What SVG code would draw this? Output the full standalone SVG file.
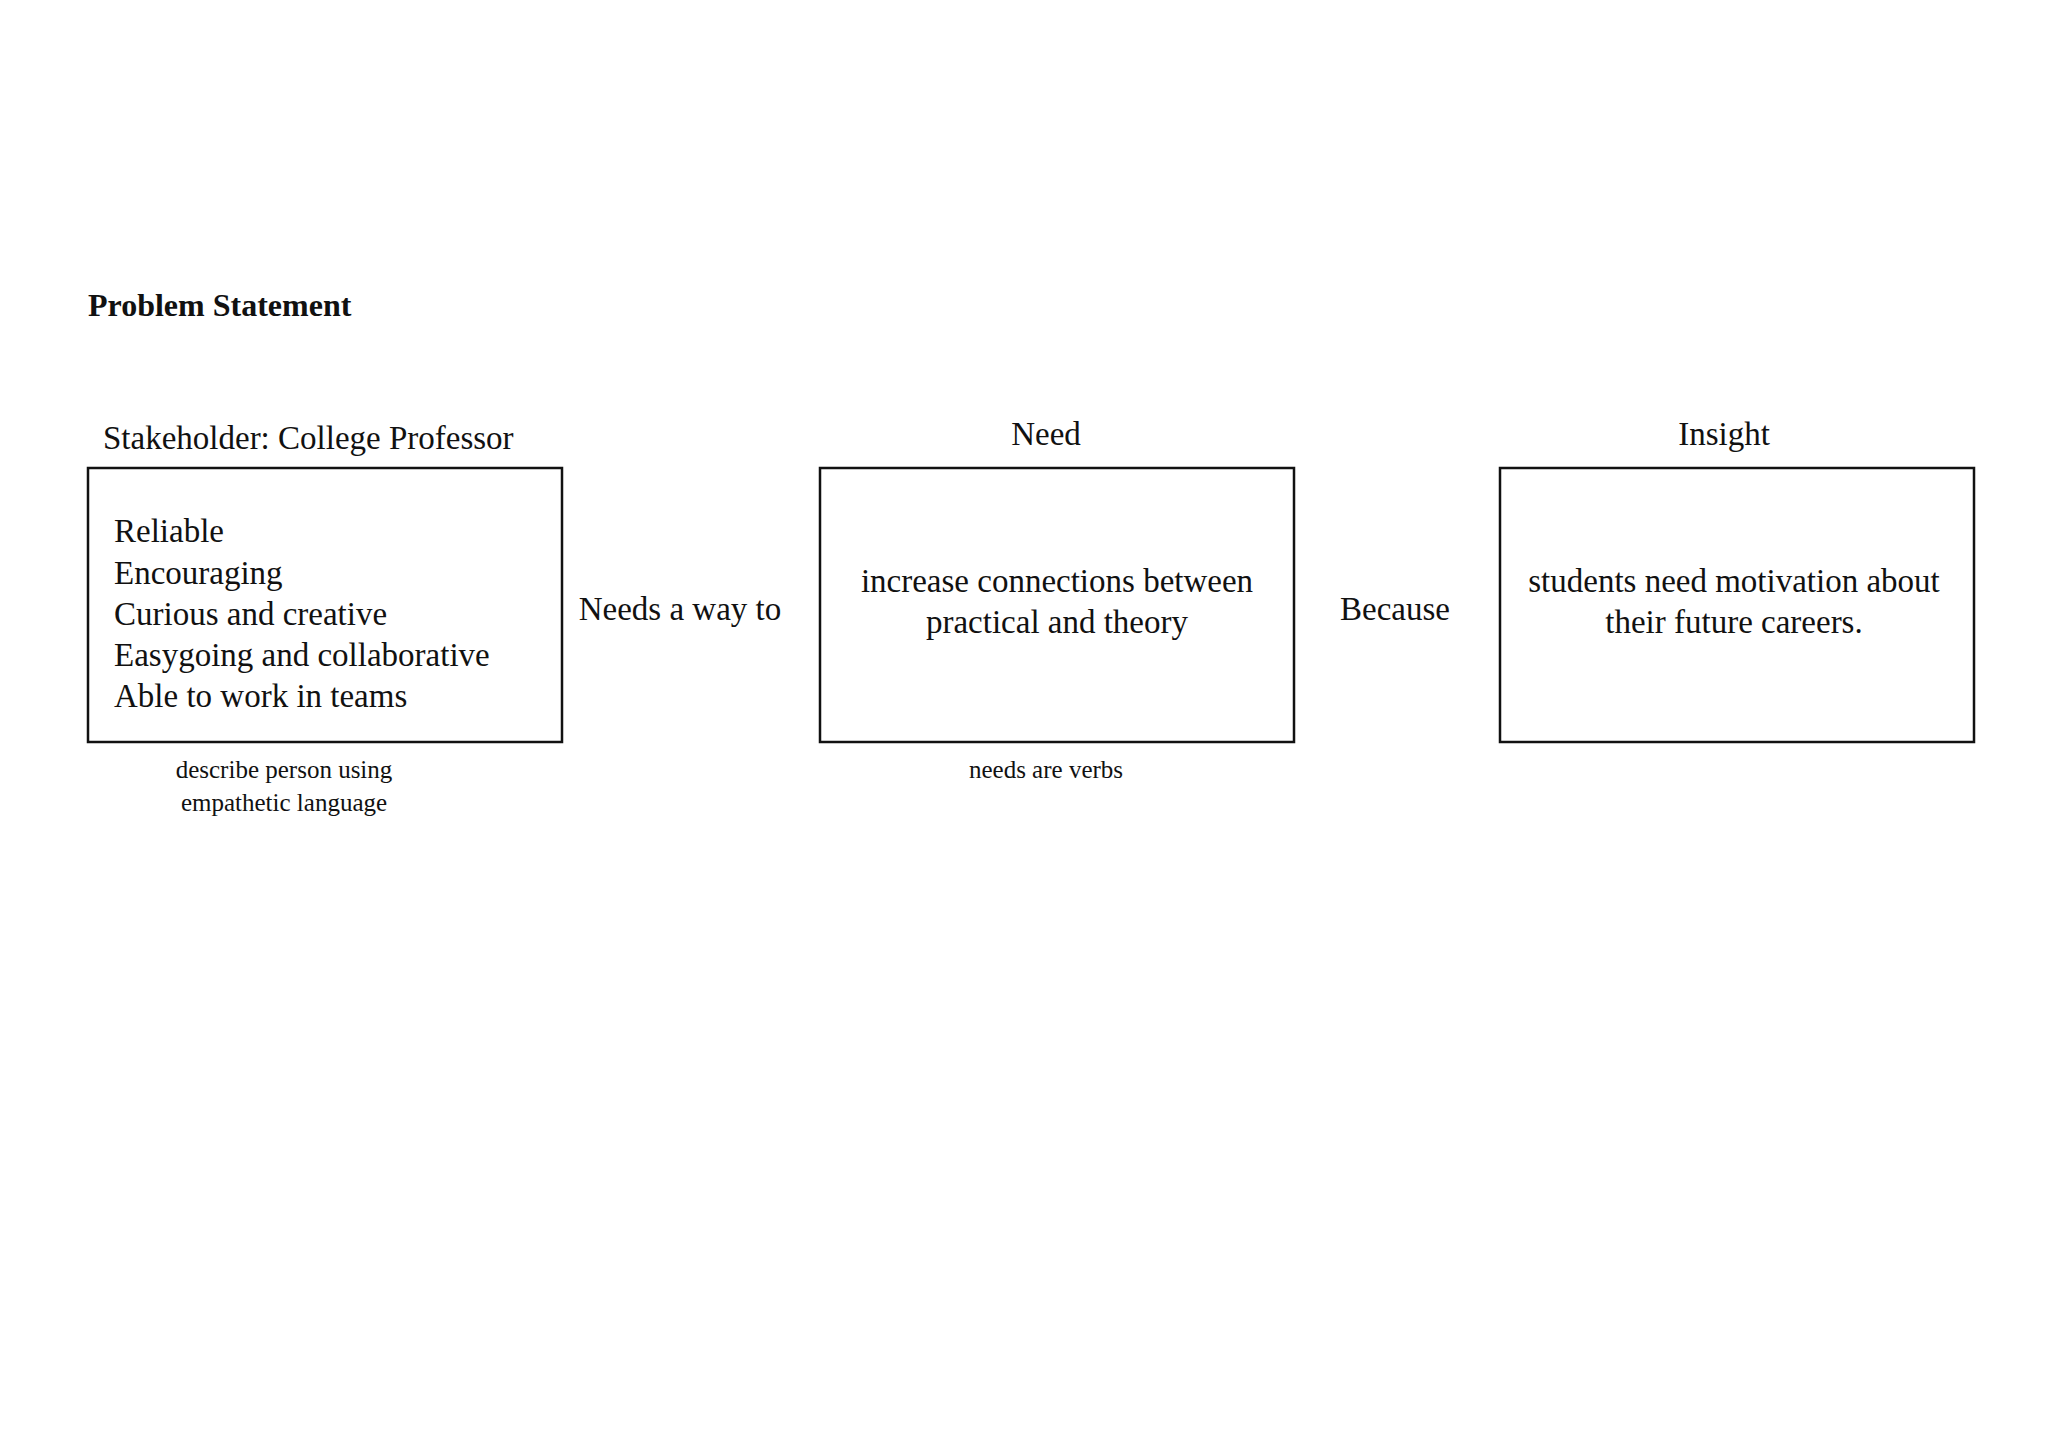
<svg xmlns="http://www.w3.org/2000/svg" width="2048" height="1448" viewBox="0 0 2048 1448">
<style>
text{font-family:"Liberation Serif",serif;fill:#111}
.box{fill:#fff;stroke:#111;stroke-width:2.5}
.l{font-size:33px}
.s{font-size:25px}
.c{text-anchor:middle}
</style>
<rect width="2048" height="1448" fill="#fff"/>
<text x="88" y="316" font-size="32" font-weight="bold">Problem Statement</text>
<g id="stakeholder">
<text class="l" x="103" y="449">Stakeholder: College Professor</text>
<rect class="box" x="88" y="468" width="474" height="274"/>
<text class="l" x="114" y="542">Reliable</text>
<text class="l" x="114" y="584">Encouraging</text>
<text class="l" x="114" y="625">Curious and creative</text>
<text class="l" x="114" y="666">Easygoing and collaborative</text>
<text class="l" x="114" y="707">Able to work in teams</text>
<text class="s c" x="284" y="778">describe person using</text>
<text class="s c" x="284" y="811">empathetic language</text>
</g>
<g id="need">
<text class="l c" x="1046" y="445">Need</text>
<rect class="box" x="820" y="468" width="474" height="274"/>
<text class="l c" x="1057" y="592">increase connections between</text>
<text class="l c" x="1057" y="633">practical and theory</text>
<text class="s c" x="1046" y="778">needs are verbs</text>
</g>
<g id="insight">
<text class="l c" x="1724" y="445">Insight</text>
<rect class="box" x="1500" y="468" width="474" height="274"/>
<text class="l c" x="1734" y="592">students need motivation about</text>
<text class="l c" x="1734" y="633">their future careers.</text>
</g>
<g id="connectors">
<text class="l c" x="680" y="620">Needs a way to</text>
<text class="l c" x="1395" y="620">Because</text>
</g>
</svg>
